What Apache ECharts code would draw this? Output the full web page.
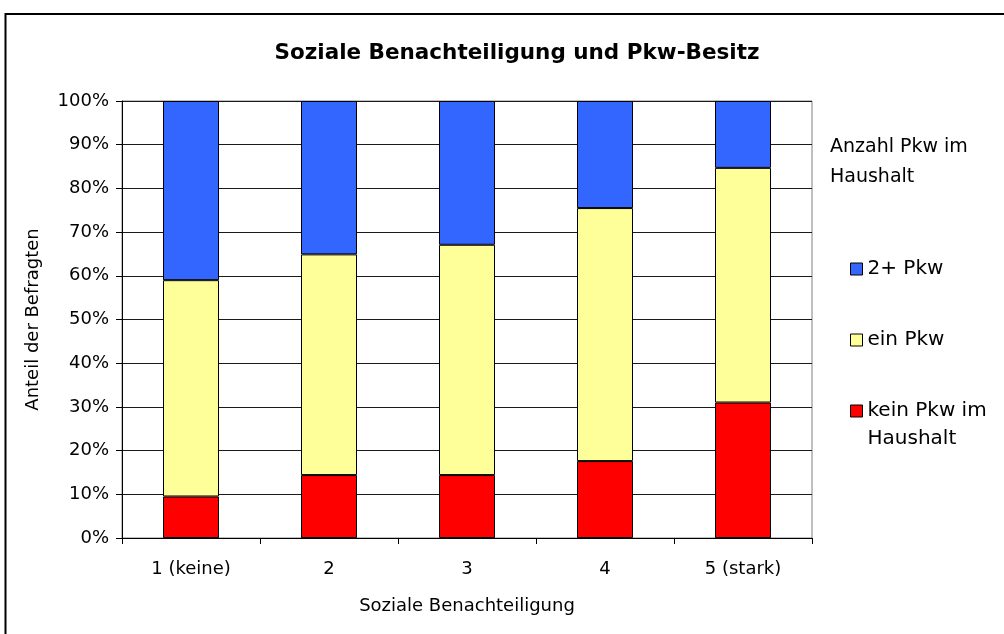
<!DOCTYPE html>
<html>
<head>
<meta charset="utf-8">
<script src="https://cdn.jsdelivr.net/npm/echarts@6/dist/echarts.min.js"></script>
<style>html,body{margin:0;padding:0;background:#fff;}#c{width:1004px;height:634px;}</style>
</head>
<body>
<div id="c"></div>
<script>
const categories = ['1 (keine)', '2', '3', '4', '5 (stark)'];
const keinPkw = [9.5, 14.4, 14.4, 17.6, 31.0];
const einPkw = [49.5, 50.5, 52.7, 57.9, 53.7];
const zweiPlusPkw = [41.0, 35.1, 32.9, 24.5, 15.3];
const seriesNames = ['kein Pkw im Haushalt', 'ein Pkw', '2+ Pkw'];
const seriesColors = ['#FF0000', '#FFFF99', '#3366FF'];

const FONT = 'DejaVu Sans';
const chart = echarts.init(document.getElementById('c'), null, {renderer: 'canvas'});

function legendAt(name, top, extra) {
  return Object.assign({
    data: [name],
    orient: 'vertical',
    left: 850,
    top: top,
    padding: 0,
    itemWidth: 12,
    itemHeight: 12,
    icon: 'rect',
    itemStyle: {borderColor: '#000', borderWidth: 1},
    textStyle: {fontFamily: FONT, fontSize: 20, color: '#000', lineHeight: 28},
    selectedMode: false
  }, extra || {});
}

const option = {
  backgroundColor: '#fff',
  animation: false,
  title: [{
    text: 'Soziale Benachteiligung und Pkw-Besitz',
    left: 517,
    top: 42,
    padding: 0,
    textAlign: 'center',
    textStyle: {fontFamily: FONT, fontWeight: 'bold', fontSize: 21.5, color: '#000'}
  }, {
    text: 'Anzahl Pkw im\nHaushalt',
    left: 830,
    top: 132,
    padding: 0,
    textStyle: {fontFamily: FONT, fontWeight: 'normal', fontSize: 19, color: '#000', lineHeight: 30}
  }],
  legend: [
    legendAt('2+ Pkw', 255),
    legendAt('ein Pkw', 326),
    legendAt('kein Pkw im Haushalt', 369, {
      formatter: function (n) { return ' \nkein Pkw im\nHaushalt'; }
    })
  ],
  grid: {
    left: 122, top: 101, width: 690, height: 437,
    show: true, borderColor: '#808080', borderWidth: 1, backgroundColor: 'transparent'
  },
  xAxis: {
    type: 'category',
    data: categories,
    name: 'Soziale Benachteiligung',
    nameLocation: 'middle',
    nameGap: 59,
    nameTextStyle: {fontFamily: FONT, fontSize: 18, color: '#000'},
    axisLine: {lineStyle: {color: '#000', width: 1}},
    axisTick: {show: true, alignWithLabel: false, length: 6, lineStyle: {color: '#000'}},
    axisLabel: {fontFamily: FONT, fontSize: 18, color: '#000', margin: 22}
  },
  yAxis: {
    type: 'value',
    min: 0, max: 100, interval: 10,
    name: 'Anteil der Befragten',
    nameLocation: 'middle',
    nameGap: 80,
    nameRotate: 90,
    nameTextStyle: {fontFamily: FONT, fontSize: 18, color: '#000'},
    axisLine: {show: true, lineStyle: {color: '#000', width: 1}},
    axisTick: {show: true, length: 6, lineStyle: {color: '#000'}},
    axisLabel: {fontFamily: FONT, fontSize: 18, color: '#000', margin: 13, formatter: '{value}%'},
    splitLine: {show: true, lineStyle: {color: '#1a1a1a', width: 1}}
  },
  series: [
    {name: seriesNames[0], type: 'bar', stack: 't', data: keinPkw, barWidth: 56,
     itemStyle: {color: seriesColors[0], borderColor: '#000', borderWidth: 1}},
    {name: seriesNames[1], type: 'bar', stack: 't', data: einPkw, barWidth: 56,
     itemStyle: {color: seriesColors[1], borderColor: '#000', borderWidth: 1}},
    {name: seriesNames[2], type: 'bar', stack: 't', data: zweiPlusPkw, barWidth: 56,
     itemStyle: {color: seriesColors[2], borderColor: '#000', borderWidth: 1}}
  ],
  graphic: [{
    type: 'rect',
    shape: {x: 5.5, y: 14, width: 1010, height: 640},
    style: {fill: 'none', stroke: '#000', lineWidth: 2},
    silent: true,
    z: 100
  }]
};
chart.setOption(option);
</script>
</body>
</html>
